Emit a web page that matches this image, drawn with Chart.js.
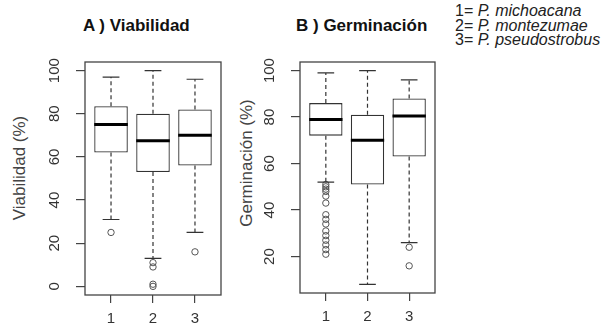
<!DOCTYPE html>
<html>
<head>
<meta charset="utf-8">
<script src="https://cdn.jsdelivr.net/npm/chart.js@4.4.1/dist/chart.umd.min.js"></script>
<style>
	body { margin: 0; background: #fff; font-family: "Liberation Sans", Arial, sans-serif; }
	#wrap { position: relative; width: 607px; height: 327px; overflow: hidden; }
	#wrap canvas { position: absolute; top: 0; }
	.main { position: absolute; top: 16px; font-weight: bold; font-size: 17px; color: #111; white-space: nowrap; }
	.ylab { position: absolute; font-size: 17px; color: #444; white-space: nowrap; transform: translate(-50%, -50%) rotate(-90deg); }
	.key { position: absolute; left: 455px; top: 4px; font-size: 16px; line-height: 14.5px; color: #222; white-space: nowrap; }
</style>
</head>
<body>
<div id="wrap">
	<div class="main" style="left:83px">A ) Viabilidad</div>
	<div class="main" style="left:296px">B ) Germinación</div>
	<div class="ylab" style="left:20px; top:168px">Viabilidad (%)</div>
	<div class="ylab" style="left:247px; top:163px">Germinación (%)</div>
	<div class="key">
		<div>1= <i>P. michoacana</i></div>
		<div>2= <i>P. montezumae</i></div>
		<div>3= <i>P. pseudostrobus</i></div>
	</div>
	<canvas id="chartA" style="left:0" width="235" height="327"></canvas>
	<canvas id="chartB" style="left:225px" width="220" height="327"></canvas>
</div>
<script>
// Species 1, 2, 3 on the x axis.
const groups = [ 1, 2, 3 ];

// A) Viabilidad (%)
const viaLow = [ 31, 13, 25 ];
const viaQ1 = [ 62, 53, 56 ];
const viaMed = [ 75, 67.5, 70 ];
const viaQ3 = [ 83.5, 80, 82 ];
const viaHigh = [ 97, 100, 96 ];
const viaOut = [ [ 25 ], [ 11, 9, 1, 0 ], [ 16 ] ];
const viaTicks = [ 0, 20, 40, 60, 80, 100 ];

// B) Germinación (%)
const gerLow = [ 52, 8, 26 ];
const gerQ1 = [ 72, 51, 63 ];
const gerMed = [ 79, 70, 80.5 ];
const gerQ3 = [ 86, 81, 88 ];
const gerHigh = [ 99, 100, 96 ];
const gerOut = [ [ 51, 50, 49, 48, 46, 43, 38, 36, 34, 31, 29, 27, 25, 23, 21 ], [], [ 24, 16 ] ];
const gerTicks = [ 20, 40, 60, 80, 100 ];

const ink = '#333';

// R-style range: data extent padded by 4% each side.
const pad4 = ( lo, hi ) => [ lo - ( hi - lo ) * 0.04, hi + ( hi - lo ) * 0.04 ];

// Whiskers, staples, medians and the frame, drawn through the chart's scales.
const boxParts = {
	id: 'boxParts',
	afterDatasetsDraw( chart, args, opts ) {
		const { ctx, chartArea: area, scales: { x, y } } = chart;
		const boxes = chart.getDatasetMeta( 0 ).data;
		ctx.save();
		groups.forEach( ( g, i ) => {
			const cx = x.getPixelForValue( g );
			const half = boxes[ i ].width / 2;
			ctx.strokeStyle = ink;
			ctx.lineWidth = 1.2;
			ctx.setLineDash( [ 4, 3 ] );
			ctx.beginPath();
			ctx.moveTo( cx, y.getPixelForValue( opts.q3[ i ] ) );
			ctx.lineTo( cx, y.getPixelForValue( opts.high[ i ] ) );
			ctx.moveTo( cx, y.getPixelForValue( opts.q1[ i ] ) );
			ctx.lineTo( cx, y.getPixelForValue( opts.low[ i ] ) );
			ctx.stroke();
			ctx.setLineDash( [] );
			ctx.beginPath();
			[ opts.high[ i ], opts.low[ i ] ].forEach( ( v ) => {
				const py = y.getPixelForValue( v );
				ctx.moveTo( cx - half / 2, py );
				ctx.lineTo( cx + half / 2, py );
			} );
			ctx.stroke();
			ctx.lineWidth = 3;
			ctx.strokeStyle = '#000';
			ctx.beginPath();
			const my = y.getPixelForValue( opts.med[ i ] );
			ctx.moveTo( cx - half, my );
			ctx.lineTo( cx + half, my );
			ctx.stroke();
		} );
		ctx.lineWidth = 1.3;
		ctx.strokeStyle = '#444';
		ctx.strokeRect( area.left, area.top, area.right - area.left, area.bottom - area.top );
		ctx.restore();
	},
};

function boxChart( canvas, s ) {
	const [ yMin, yMax ] = pad4( s.min, s.max );
	return new Chart( canvas, {
		type: 'bar',
		data: {
			datasets: [ {
				data: groups.map( ( g, i ) => ( { x: g, y: [ s.q1[ i ], s.q3[ i ] ] } ) ),
				backgroundColor: '#fff',
				borderColor: ink,
				borderWidth: 1.3,
				borderSkipped: false,
				categoryPercentage: 0.8,
				barPercentage: 1,
			}, {
				type: 'scatter',
				data: groups.flatMap( ( g, i ) => s.out[ i ].map( ( v ) => ( { x: g, y: v } ) ) ),
				pointStyle: 'circle',
				radius: 3.2,
				borderWidth: 1,
				borderColor: '#555',
				backgroundColor: 'rgba(255,255,255,0)',
			} ],
		},
		options: {
			responsive: false,
			animation: false,
			events: [],
			layout: { padding: { top: 62, right: s.padRight, bottom: 0, left: 0 } },
			plugins: {
				legend: { display: false },
				tooltip: { enabled: false },
				boxParts: s,
			},
			scales: {
				x: {
					type: 'linear',
					min: 0.38,
					max: 3.62,
					offset: false,
					afterBuildTicks: ( sc ) => { sc.ticks = groups.map( ( v ) => ( { value: v } ) ); },
					afterFit: ( sc ) => { sc.height = 327 - s.bottom; },
					border: { display: false },
					grid: { offset: false, drawOnChartArea: false, tickLength: 8, color: '#444', lineWidth: 1.2 },
					ticks: { color: ink, padding: 7, font: { family: 'Liberation Sans', size: 15 } },
				},
				y: {
					min: yMin,
					max: yMax,
					afterBuildTicks: ( sc ) => { sc.ticks = s.ticks.map( ( v ) => ( { value: v } ) ); },
					afterFit: ( sc ) => { sc.width = s.axisWidth; },
					border: { display: false },
					grid: { drawOnChartArea: false, tickLength: 9, color: '#444', lineWidth: 1.2 },
					ticks: {
						color: ink,
						minRotation: 90,
						maxRotation: 90,
						crossAlign: 'center',
						padding: 9,
						font: { family: 'Liberation Sans', size: 15 },
					},
				},
			},
		},
		plugins: [ boxParts ],
	} );
}

boxChart( document.getElementById( 'chartA' ), {
	low: viaLow, q1: viaQ1, med: viaMed, q3: viaQ3, high: viaHigh, out: viaOut,
	ticks: viaTicks, min: 0, max: 100,
	axisWidth: 85, padRight: 14, bottom: 295,
} );

boxChart( document.getElementById( 'chartB' ), {
	low: gerLow, q1: gerQ1, med: gerMed, q3: gerQ3, high: gerHigh, out: gerOut,
	ticks: gerTicks, min: 8, max: 100,
	axisWidth: 75, padRight: 10, bottom: 293,
} );
</script>
</body>
</html>
